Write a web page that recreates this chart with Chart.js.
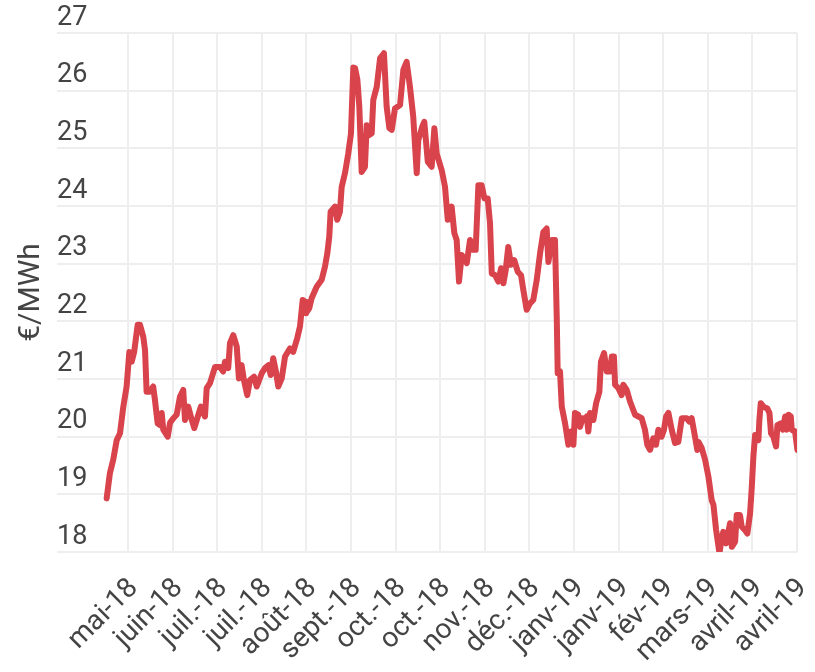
<!DOCTYPE html>
<html>
<head>
<meta charset="utf-8">
<script src="https://cdn.jsdelivr.net/npm/chart.js@4"></script>
<style>
  html, body { margin: 0; padding: 0; background: #ffffff; }
  canvas { display: block; }
</style>
</head>
<body>
<canvas id="c" width="815" height="672"></canvas>
<script>
// Day offsets (0 = 20 May 2018, roughly) and prices in €/MWh
const days = [-11.0,-9.3,-7.6,-5.8,-4.1,-2.4,-0.7,0.7,1.9,3.2,5.0,6.2,7.9,8.8,9.6,11.3,13.0,13.9,15.3,16.5,17.4,18.2,20.5,21.7,23.4,25.1,26.8,28.5,29.4,31.1,32.9,34.2,36.3,37.6,39.7,40.6,42.3,44.9,47.4,49.1,50.0,51.7,52.6,54.3,56.1,57.2,58.6,59.8,61.5,62.9,65.0,66.4,69.0,70.7,72.4,73.6,74.9,76.3,77.5,79.3,81.0,83.5,85.2,87.3,88.7,90.1,91.3,91.8,93.5,94.7,97.3,99.9,101.6,102.8,103.8,104.5,106.8,107.9,109.3,110.2,111.9,113.6,115.0,116.2,117.1,118.3,119.3,120.5,122.2,123.1,124.4,125.7,126.5,128.3,130.0,132.0,133.4,134.8,136.0,137.7,140.3,142.0,143.7,145.4,147.1,148.9,149.7,151.8,152.8,154.6,156.6,158.0,159.2,161.8,163.5,164.9,166.9,168.3,169.5,170.7,172.1,174.7,176.4,177.6,179.3,180.7,182.4,183.8,185.5,186.7,187.6,189.3,191.0,192.4,193.6,194.8,196.1,197.5,199.2,201.0,202.7,203.9,205.6,207.3,209.0,210.8,212.5,214.2,215.9,216.8,218.5,220.2,221.1,221.6,222.8,223.7,225.4,227.1,228.5,229.7,230.5,232.2,233.1,234.5,235.7,236.6,237.4,238.3,240.0,241.4,243.1,243.9,245.5,246.9,248.6,249.5,250.6,251.2,252.9,254.6,255.4,257.2,258.9,261.5,263.2,264.9,266.6,267.8,269.2,270.9,272.3,273.5,275.2,276.4,277.5,278.7,280.4,282.1,283.8,285.6,288.1,289.5,290.7,292.4,293.6,294.2,295.9,297.6,299.3,301.0,301.9,303.3,305.0,306.2,307.0,308.4,309.6,310.5,311.4,313.1,313.9,315.6,316.5,318.2,319.4,320.8,321.7,322.5,323.4,325.1,325.6,326.3,327.7,329.7,330.8,331.6,332.8,334.2,334.9,336.6,337.7,338.9,339.7,340.6,341.8,342.3,344.0,345.2];
const prices = [18.93,19.37,19.60,19.94,20.06,20.52,20.87,21.47,21.30,21.47,21.94,21.94,21.73,21.50,20.78,20.78,20.87,20.64,20.23,20.20,20.41,20.12,20.00,20.24,20.32,20.38,20.69,20.81,20.29,20.52,20.29,20.15,20.38,20.52,20.35,20.84,20.93,21.21,21.21,21.13,21.30,21.19,21.62,21.76,21.56,21.01,21.24,20.98,20.72,20.98,21.04,20.87,21.10,21.19,21.24,21.07,21.36,21.13,20.87,21.01,21.39,21.53,21.47,21.71,21.91,22.37,22.34,22.14,22.23,22.40,22.60,22.72,22.95,23.18,23.47,23.90,23.99,23.76,23.90,24.33,24.57,24.91,25.26,26.40,26.39,26.19,25.72,24.59,24.68,25.40,25.23,25.26,25.84,26.07,26.56,26.65,25.72,25.35,25.32,25.69,25.75,26.36,26.50,26.07,25.55,24.57,25.14,25.38,25.46,24.77,24.68,25.35,24.91,24.62,24.33,23.76,23.99,23.53,23.41,22.69,23.15,23.01,23.41,23.24,23.24,24.36,24.36,24.13,24.13,23.70,22.83,22.80,22.69,22.92,22.66,22.89,23.29,22.98,23.06,22.86,22.80,22.54,22.20,22.31,22.37,22.72,23.18,23.55,23.61,23.03,23.41,23.41,22.08,21.10,21.13,20.52,20.23,19.86,20.09,19.86,20.41,20.38,20.17,20.32,20.29,20.35,20.09,20.41,20.29,20.58,20.78,21.30,21.45,21.13,21.13,21.39,21.39,20.90,20.84,20.72,20.90,20.81,20.61,20.38,20.35,20.32,20.12,19.86,19.77,19.97,19.86,20.12,20.00,20.12,20.35,20.41,20.12,19.89,19.91,20.32,20.32,20.26,20.32,20.00,19.77,19.91,19.80,19.60,19.31,18.90,18.82,18.38,17.98,18.24,18.35,18.15,18.35,18.50,18.09,18.18,18.64,18.64,18.44,18.38,18.32,18.67,19.13,19.65,20.03,19.94,20.29,20.58,20.52,20.49,20.41,20.06,20.00,19.83,20.20,20.23,20.12,20.35,20.12,20.38,20.35,20.12,20.09,19.77];
// Tick positions (day offsets) and their labels
const tickDays = [0,23,46,69,92,115,138,161,184,207,230,253,276,299,322,345];
const tickLabels = ['mai-18','juin-18','juil.-18','juil.-18','août-18','sept.-18','oct.-18','oct.-18','nov.-18','déc.-18','janv-19','janv-19','fév-19','mars-19','avril-19','avril-19'];
const yTitle = '€/MWh';

const points = days.map((d, i) => ({ x: d, y: prices[i] }));

new Chart(document.getElementById('c'), {
  type: 'line',
  data: {
    datasets: [{
      data: points,
      borderColor: 'rgb(216,67,76)',
      borderWidth: 6,
      borderJoinStyle: 'round',
      borderCapStyle: 'round',
      pointRadius: 0,
      tension: 0,
      fill: false
    }]
  },
  options: {
    responsive: false,
    animation: false,
    layout: { padding: { left: 13, top: 33, right: 18, bottom: 0 } },
    plugins: { legend: { display: false }, tooltip: { enabled: false } },
    scales: {
      x: {
        type: 'linear',
        min: -36.6,
        max: 345,
        afterBuildTicks: (scale) => { scale.ticks = tickDays.map(v => ({ value: v })); },
        afterFit: (scale) => { scale.height = 120; scale.paddingLeft = 0; scale.paddingRight = 0; },
        grid: { color: '#eeeeee', lineWidth: 2, drawTicks: false },
        border: { display: false },
        ticks: {
          autoSkip: false,
          maxRotation: 45,
          minRotation: 45,
          padding: 20,
          labelOffset: 6,
          color: '#444444',
          font: { family: 'Roboto', size: 28 },
          callback: (value) => { const i = tickDays.indexOf(value); return i >= 0 ? tickLabels[i] : ''; }
        }
      },
      y: {
        min: 18,
        max: 27,
        grid: { color: '#eeeeee', lineWidth: 2, drawTicks: false },
        border: { display: false },
        title: {
          display: true,
          text: yTitle,
          color: '#444444',
          font: { family: 'Roboto', size: 30 },
          padding: { top: 0, bottom: 8 }
        },
        ticks: {
          stepSize: 1,
          mirror: true,
          padding: 0,
          labelOffset: -15,
          color: '#444444',
          font: { family: 'Roboto', size: 27 }
        }
      }
    }
  }
});
</script>
</body>
</html>
